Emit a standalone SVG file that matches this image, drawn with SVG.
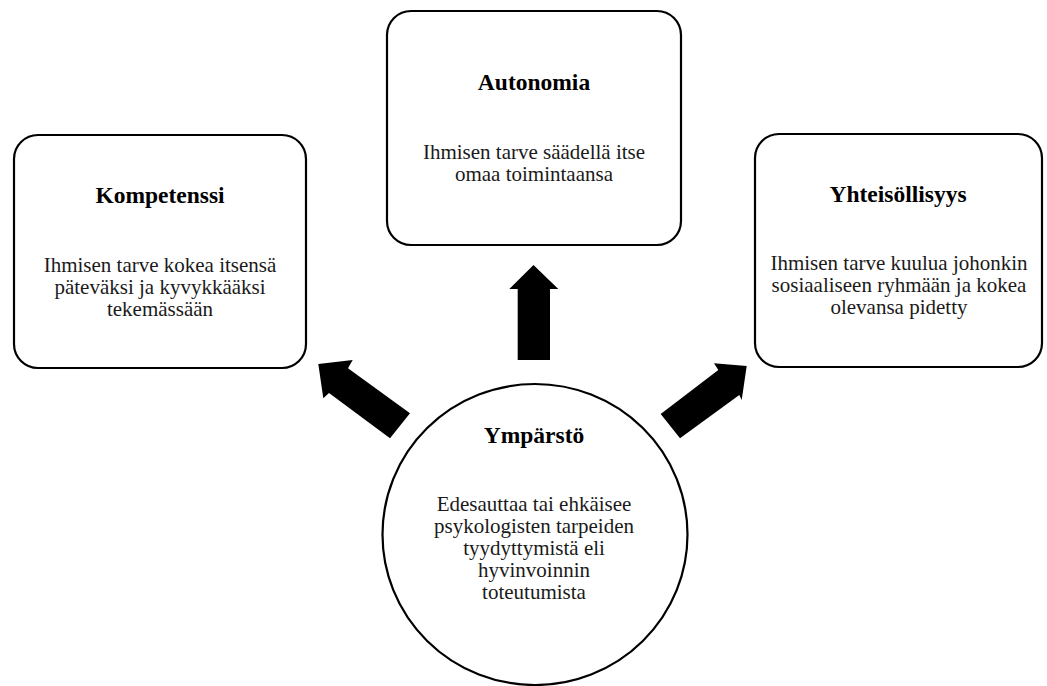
<svg xmlns="http://www.w3.org/2000/svg" width="1047" height="686" viewBox="0 0 1047 686">
<style>
.box{fill:#fff;stroke:#000;stroke-width:2.2}
.t{font-family:"Liberation Serif","Times New Roman",serif;font-weight:bold;font-size:23.5px;fill:#000;text-anchor:middle}
.b{font-family:"Liberation Serif","Times New Roman",serif;font-size:21px;fill:#1a1a1a;text-anchor:middle}
.arr{fill:#000}
</style>
<rect width="1047" height="686" fill="#fff"/>
<g id="kompetenssi">
<rect class="box" x="14" y="135" width="292" height="233" rx="24"/>
<text class="t" x="160" y="203">Kompetenssi</text>
<text class="b" x="160" y="272">Ihmisen tarve kokea itsensä</text>
<text class="b" x="160" y="294">päteväksi ja kyvykkääksi</text>
<text class="b" x="160" y="316">tekemässään</text>
</g>
<g id="autonomia">
<rect class="box" x="387" y="11" width="294" height="234" rx="24"/>
<text class="t" x="534" y="90">Autonomia</text>
<text class="b" x="534" y="159">Ihmisen tarve säädellä itse</text>
<text class="b" x="534" y="181">omaa toimintaansa</text>
</g>
<g id="yhteisollisyys">
<rect class="box" x="755" y="134" width="287" height="233" rx="24"/>
<text class="t" x="898" y="201.5">Yhteisöllisyys</text>
<text class="b" x="899" y="270">Ihmisen tarve kuulua johonkin</text>
<text class="b" x="899" y="292">sosiaaliseen ryhmään ja kokea</text>
<text class="b" x="899" y="314">olevansa pidetty</text>
</g>
<g id="ymparisto">
<ellipse class="box" cx="535" cy="534.5" rx="152.5" ry="150.5"/>
<text class="t" x="534" y="442.5">Ympärstö</text>
<text class="b" x="534" y="511">Edesauttaa tai ehkäisee</text>
<text class="b" x="534" y="533">psykologisten tarpeiden</text>
<text class="b" x="534" y="555">tyydyttymistä eli</text>
<text class="b" x="534" y="577">hyvinvoinnin</text>
<text class="b" x="534" y="599">toteutumista</text>
</g>
<g id="connectors">
<polygon class="arr" points="517.7,360 517.7,289 509.3,289 533.5,265 558.3,289 550,289 550,360"/>
<polygon class="arr" points="410,413.3 348,368.3 352.7,360 318.3,364 323.3,398.3 329,393 390,438.3"/>
<polygon class="arr" points="660.7,414 718.3,370 714,363.3 746.7,366 741.7,400 739.3,395 680,438.3"/>
</g>
</svg>
